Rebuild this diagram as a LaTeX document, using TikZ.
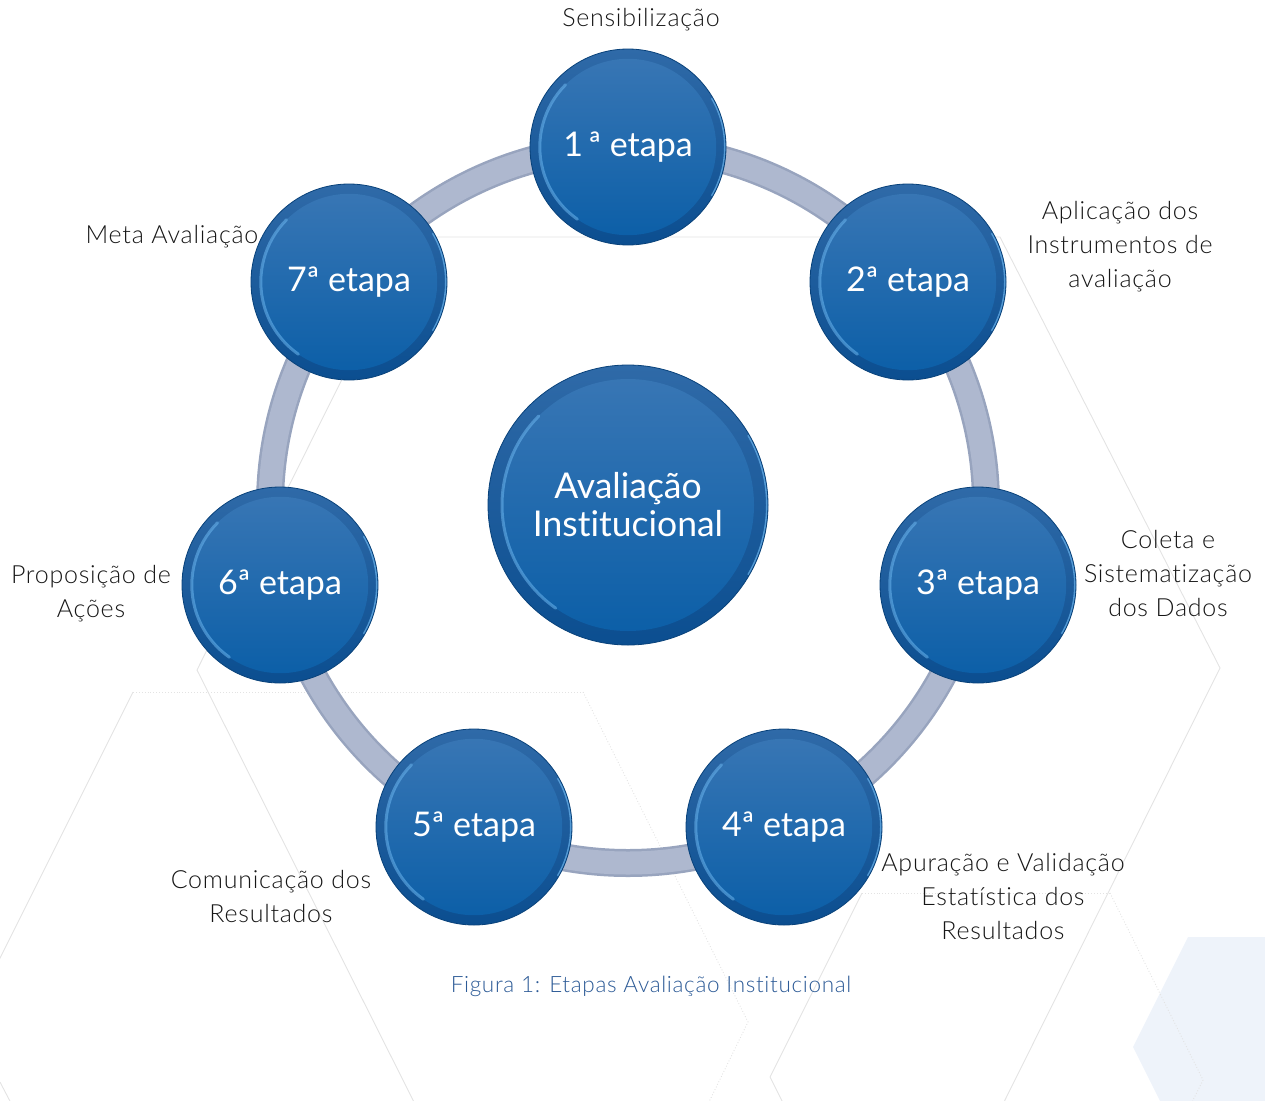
\documentclass[tikz,border=0pt]{standalone}
\usepackage{fontspec}
\setmainfont{Lato}[Ligatures=NoCommon]
\newfontfamily\lightf{Lato Light}[LetterSpace=3,Ligatures=NoCommon]
\usetikzlibrary{calc}
\definecolor{ringc}{HTML}{AEB8CF}
\definecolor{ringd}{HTML}{98A4BE}
\definecolor{btop}{HTML}{3A77B5}
\definecolor{bbot}{HTML}{0A5EA7}
\definecolor{otop}{HTML}{2F6AA8}
\definecolor{obot}{HTML}{0B4E90}
\definecolor{hl}{HTML}{6BB5EE}
\definecolor{hexl}{HTML}{E3E3E3}
\definecolor{hexf}{HTML}{EEF3FA}
\definecolor{capc}{HTML}{2C5A96}
\definecolor{labc}{HTML}{161616}
\begin{document}
\begin{tikzpicture}[x=1pt,y=-1pt,
  bubble/.style={circle, inner sep=0pt, minimum size={2*#1*1pt},
    top color=otop, bottom color=obot, draw=obot!85!black, line width=0.8pt,
    text=white, align=center,
    path picture={
      \shade[top color=btop, bottom color=bbot]
        (path picture bounding box.center) circle[radius={#1*0.9pt}];
      \draw[hl, opacity=0.55, line width=3pt, line cap=round]
        ($(path picture bounding box.center)+(135:{#1*0.9pt})$)
        arc[start angle=135, end angle=235, radius={#1*0.9pt}];
      \draw[hl, opacity=0.7, line width=1.6pt, line cap=round]
        ($(path picture bounding box.center)+(-30:{#1*1pt-1.2pt})$)
        arc[start angle=-30, end angle=30, radius={#1*1pt-1.2pt}];
    }},
  stage/.style={bubble=98, font=\fontsize{34}{36}\selectfont},
  hub/.style={bubble=140, font=\fontsize{35.5}{38}\selectfont},
  lab/.style={text=labc, align=center, inner sep=0pt, font=\lightf\fontsize{25}{34}\selectfont},
  hexline/.style={hexl, line width=0.9pt},
  hexdot/.style={hexl, line width=0.9pt, dotted}
]
\useasboundingbox (0,0) rectangle (1265,1100);
% background hexagons
\begin{scope}
\clip (0,0) rectangle (1265,1100);
\fill[hexf] (1133,1047) -- (1188,937) -- (1300,937) -- (1300,1160) -- (1188,1157) -- cycle;
\draw[hexline] (413,237) -- (1000,237) -- (1220,668) -- (1000,1110);
\draw[hexline] (413,237) -- (197,670) -- (418,1110);
\draw[hexdot] (133,692) -- (583,692);
\draw[hexline] (133,692) -- (-5,968);
\draw[hexdot] (583,692) -- (748,1022) -- (705,1110);
\draw[hexline] (0,1082) -- (12,1105);
\draw[hexdot] (862,893) -- (1110,893);
\draw[hexline] (862,893) -- (770,1077) -- (785,1107);
\draw[hexdot] (1110,893) -- (1203,1080) -- (1192,1102);
\end{scope}
% ring
\coordinate (C) at (628,505);
\draw[ringd, line width=28pt] (C) circle[radius=358pt];
\draw[ringc, line width=23pt] (C) circle[radius=358pt];
% stages
\node[hub] (hub) at (C) {Avaliação\\Institucional};
\node[stage] (s1) at (628,147) {1\,ª etapa};
\node[stage] (s2) at (908,282) {2ª etapa};
\node[stage] (s3) at (978,585) {3ª etapa};
\node[stage] (s4) at (784,827) {4ª etapa};
\node[stage] (s5) at (474,827) {5ª etapa};
\node[stage] (s6) at (280,585) {6ª etapa};
\node[stage] (s7) at (349,282) {7ª etapa};
% labels
\node[lab] (l1) at (641,20) {Sensibilização};
\node[lab] (l2) at (1120,247) {Aplicação dos\\Instrumentos de\\avaliação};
\node[lab] (l3) at (1168,573) {Coleta e\\Sistematização\\dos Dados};
\node[lab] (l4) at (1003,896) {Apuração e Validação\\Estatística dos\\Resultados};
\node[lab] (l5) at (271,896) {Comunicação dos\\Resultados};
\node[lab] (l6) at (91,594) {Proposição de\\Ações};
\node[lab] (l7) at (172,237) {Meta Avaliação};
\node[text=capc, inner sep=0pt, font=\lightf\fontsize{22.5}{24}\selectfont] (cap) at (651,986) {Figura 1: Etapas Avaliação Institucional};
\end{tikzpicture}
\end{document}
